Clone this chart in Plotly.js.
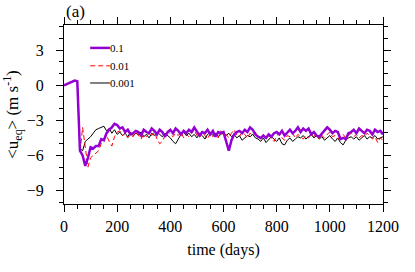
<!DOCTYPE html>
<html><head><meta charset="utf-8">
<script src="https://cdn.plot.ly/plotly-3.0.1.min.js"></script>
<style>html,body{margin:0;padding:0;background:#fff;}#chart{width:415px;height:272px;}</style>
</head><body><div id="chart"></div>
<script>
const timeDays = [0,10,20,30,40,50,60,70,80,90,100,110,120,130,140,150,160,170,180,190,200,210,220,230,240,250,260,270,280,290,300,310,320,330,340,350,360,370,380,390,400,410,420,430,440,450,460,470,480,490,500,510,520,530,540,550,560,570,580,590,600,610,620,630,640,650,660,670,680,690,700,710,720,730,740,750,760,770,780,790,800,810,820,830,840,850,860,870,880,890,900,910,920,930,940,950,960,970,980,990,1000,1010,1020,1030,1040,1050,1060,1070,1080,1090,1100,1110,1120,1130,1140,1150,1160,1170,1180,1190,1200];

const u_01 = [0,0.1,0.2,0.3,0.4,0.35,-5.6,-6.0,-6.9,-6.2,-5.3,-5.4,-5.2,-5.2,-4.6,-4.7,-4.1,-3.8,-3.6,-3.3,-3.4,-3.7,-3.6,-4.0,-3.8,-4.2,-4.1,-3.9,-4.0,-4.3,-3.8,-4.0,-4.1,-3.7,-3.9,-4.2,-3.8,-4.0,-4.4,-4.0,-3.8,-4.1,-3.7,-3.9,-4.2,-3.9,-4.1,-3.8,-4.0,-3.6,-3.9,-4.3,-4.0,-4.1,-3.8,-4.2,-3.9,-4.4,-4.0,-4.1,-4.0,-4.8,-5.6,-4.7,-4.2,-4.0,-3.9,-4.1,-3.8,-4.0,-3.6,-3.8,-4.2,-4.4,-4.5,-4.3,-4.5,-4.2,-4.4,-4.1,-4.0,-4.2,-3.9,-4.3,-4.0,-3.8,-4.1,-3.9,-3.6,-4.0,-3.7,-3.9,-3.7,-4.2,-4.0,-4.3,-4.4,-4.1,-3.9,-3.6,-3.8,-4.1,-3.9,-4.0,-4.6,-4.5,-4.6,-4.1,-4.0,-3.8,-4.1,-3.7,-3.9,-4.1,-3.8,-3.9,-4.2,-3.8,-4.0,-3.9,-4.2];

const u_001 = [0,0.1,0.2,0.3,0.4,0.35,-5.8,-3.6,-5.2,-7.0,-6.2,-6.0,-5.8,-5.6,-5.0,-4.6,-4.3,-4.8,-5.2,-4.4,-4.0,-3.9,-4.3,-4.1,-4.5,-4.2,-4.4,-4.0,-4.3,-4.6,-4.2,-4.4,-4.1,-4.3,-4.0,-4.6,-5.0,-4.8,-4.3,-3.9,-4.2,-4.4,-4.1,-4.3,-4.0,-4.5,-4.2,-4.4,-4.1,-3.8,-4.3,-4.5,-4.0,-4.3,-4.6,-4.1,-4.4,-4.2,-4.5,-3.9,-4.3,-4.2,-4.5,-4.1,-3.8,-4.3,-4.4,-4.0,-4.2,-4.5,-4.1,-4.3,-4.0,-4.4,-4.6,-4.2,-4.5,-4.3,-4.6,-4.8,-4.3,-4.1,-4.5,-4.7,-4.3,-4.4,-4.1,-4.5,-4.2,-4.4,-4.6,-4.3,-4.5,-4.2,-4.4,-4.1,-4.6,-4.3,-4.5,-4.2,-4.0,-4.4,-4.3,-4.6,-4.4,-4.2,-4.5,-4.3,-4.1,-4.4,-4.2,-4.5,-4.3,-4.4,-4.1,-4.3,-4.6,-4.4,-4.9,-4.5,-4.7];

const u_0001 = [0,0.1,0.2,0.3,0.4,0.35,-5.4,-5.6,-4.8,-4.6,-4.4,-4.1,-3.8,-3.7,-3.6,-3.5,-3.9,-3.7,-4.1,-3.8,-4.2,-4.0,-4.3,-4.1,-4.4,-4.0,-4.3,-4.1,-4.2,-4.0,-4.4,-4.2,-4.5,-4.1,-4.3,-4.0,-4.2,-4.4,-4.1,-4.3,-4.5,-4.8,-5.0,-4.6,-4.2,-4.0,-4.3,-4.1,-4.4,-4.2,-4.5,-4.1,-4.3,-4.6,-4.2,-4.0,-4.3,-4.1,-4.4,-4.2,-4.0,-4.3,-4.1,-4.4,-4.2,-4.5,-4.3,-4.7,-4.5,-4.3,-4.4,-4.2,-4.5,-4.6,-4.8,-4.5,-4.9,-4.6,-4.4,-4.6,-4.8,-4.5,-5.0,-5.1,-4.7,-4.5,-4.8,-4.6,-4.4,-4.5,-4.3,-4.6,-4.4,-4.2,-4.5,-4.3,-4.6,-4.4,-4.7,-4.5,-4.3,-4.6,-4.8,-4.5,-4.9,-5.1,-4.7,-4.5,-4.4,-4.6,-4.4,-4.7,-4.5,-4.3,-4.6,-4.4,-4.5,-4.3,-4.6,-4.5,-4.4];

const seriesNames = ['0.1','0.01','0.001'];
const seriesColors = ['#9400d3','#ff0000','#000000'];
const seriesWidths = [2.5,1,1];
const seriesDash = ['solid','5px,3px','solid'];
const xTickVals = [0,200,400,600,800,1000,1200];
const yTickVals = [-9,-6,-3,0,3];

const FONT = 'Liberation Serif';
const seriesData = [u_01, u_001, u_0001];

// draw order: black, red, purple (purple on top)
const traces = [2,1,0].map(i => ({
  x: timeDays, y: seriesData[i], name: seriesNames[i], mode: 'lines', showlegend: false,
  line: {color: seriesColors[i], width: seriesWidths[i], dash: seriesDash[i]}
}));

// manual legend (positions in paper coordinates)
const legX0 = 0.082, legX1 = 0.144;
const legY = [0.872, 0.772, 0.676];
const shapes = legY.map((y, i) => ({
  type: 'line', xref: 'paper', yref: 'paper', x0: legX0, x1: legX1, y0: y, y1: y,
  line: {color: seriesColors[i], width: seriesWidths[i], dash: seriesDash[i]}
}));
const legAnn = legY.map((y, i) => ({
  text: seriesNames[i], xref: 'paper', yref: 'paper', x: legX1, y: y, xanchor: 'left', yanchor: 'middle',
  showarrow: false, xshift: -2, font: {family: FONT, size: 11, color: '#000'}
}));

const axisCommon = {
  showgrid: false, zeroline: false, showline: true, linecolor: '#000', linewidth: 1,
  mirror: 'allticks', ticks: 'outside', ticklen: 7, tickwidth: 1, tickcolor: '#000',
  tickfont: {family: FONT, size: 16, color: '#000'}
};

const layout = {
  width: 415, height: 272,
  margin: {l: 64, r: 32, t: 25, b: 68},
  paper_bgcolor: '#fff', plot_bgcolor: '#fff',
  showlegend: false,
  xaxis: Object.assign({}, axisCommon, {
    range: [0, 1200], tickvals: xTickVals, ticklabelstandoff: 1,
    minor: {dtick: 50, ticklen: 4, ticks: 'outside', tickcolor: '#000', showgrid: false},
    title: {text: 'time (days)', font: {family: FONT, size: 16, color: '#000'}, standoff: 9}
  }),
  yaxis: Object.assign({}, axisCommon, {
    range: [-10.15, 5.15], tickvals: yTickVals, ticklabelstandoff: 9,
    minor: {dtick: 1, ticklen: 4, ticks: 'outside', tickcolor: '#000', showgrid: false},
    title: {text: '<u<sub>eq</sub>> (m s<sup>-1</sup>)', font: {family: FONT, size: 17, color: '#000'}, standoff: 5}
  }),
  shapes: shapes,
  annotations: [
    {text: '(a)', xref: 'paper', yref: 'paper', x: 0, y: 1, xanchor: 'left', yanchor: 'bottom', yshift: 2,
     showarrow: false, font: {family: FONT, size: 17, color: '#000'}}
  ].concat(legAnn)
};

Plotly.newPlot('chart', traces, layout, {displayModeBar: false, staticPlot: true});
</script>
</body></html>
